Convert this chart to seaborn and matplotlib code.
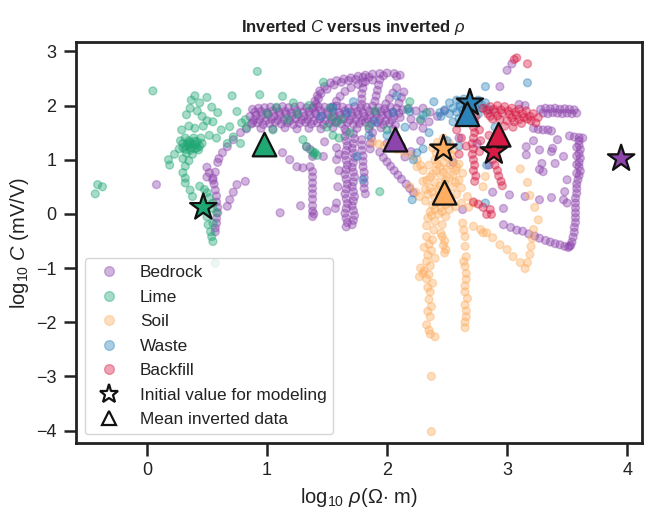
import pandas as pd
import seaborn as sns
import matplotlib.pyplot as plt
from matplotlib.lines import Line2D

# ---- inverted (log10 rho, log10 C) pairs per unit ----
bedrock = [
    (0.08, 0.54),
    (0.50, 0.86), (0.52, 0.76), (0.55, 0.66), (0.56, 0.55), (0.57, 0.44), (0.58, 0.33),
    (0.58, 0.22), (0.59, 0.12), (0.59, 0.02), (0.58, -0.08), (0.58, -0.17), (0.57, -0.26),
    (0.57, -0.33), (0.59, 0.95), (0.57, 0.77), (0.50, 0.68), (0.55, 0.62),
    (0.60, 1.02), (0.63, 1.13), (0.67, 1.24), (0.72, 1.37), (0.78, 1.50), (0.83, 1.57), (0.88, 1.68),
    (0.67, 0.14), (0.69, 0.26), (0.72, 0.40), (0.75, 0.54), (0.82, 0.60),
    (1.13, 1.13), (1.19, 1.00), (1.25, 0.87), (1.30, 0.85), (1.36, 0.87), (1.38, 1.06),
    (1.36, 1.19), (1.33, 1.24), (1.47, 1.06), (1.58, 1.00), (1.58, 1.22), (1.48, 1.33),
    (1.38, 0.78), (1.38, 0.68), (1.38, 0.57), (1.38, 0.47), (1.38, 0.37), (1.38, 0.27),
    (1.38, 0.15), (1.38, 0.05), (1.39, 0.00), (1.38, -0.05),
    (1.11, 0.02), (1.28, 0.15), (1.50, 0.05),
    # main band
    (0.88, 1.93), (0.93, 1.95), (0.98, 1.96), (1.03, 1.97), (1.08, 1.95), (1.13, 1.98),
    (1.18, 1.96), (1.23, 1.97), (1.28, 1.99), (1.33, 1.96), (1.38, 1.95), (1.43, 1.98),
    (1.48, 1.97), (1.53, 1.96), (1.58, 1.99), (1.63, 1.97), (1.68, 1.95), (1.73, 1.98),
    (1.78, 1.96), (1.83, 1.97), (1.88, 1.99), (1.93, 1.96), (1.98, 1.94), (2.03, 1.97),
    (2.08, 1.95), (2.13, 1.92),
    (0.90, 1.88), (0.95, 1.89), (1.00, 1.87), (1.05, 1.90), (1.10, 1.88), (1.15, 1.89),
    (1.20, 1.87), (1.25, 1.90), (1.30, 1.88), (1.35, 1.89), (1.40, 1.87), (1.45, 1.90),
    (1.50, 1.88), (1.55, 1.89), (1.60, 1.87), (1.65, 1.90), (1.70, 1.88), (1.75, 1.89),
    (1.80, 1.87), (1.85, 1.90), (1.90, 1.88), (1.95, 1.89), (2.00, 1.87), (2.05, 1.88),
    (2.10, 1.86),
    (0.86, 1.80), (0.91, 1.82), (0.96, 1.81), (1.01, 1.83), (1.06, 1.80), (1.11, 1.82),
    (1.16, 1.84), (1.21, 1.81), (1.26, 1.83), (1.31, 1.80), (1.36, 1.82), (1.41, 1.84),
    (1.46, 1.81), (1.51, 1.83), (1.56, 1.80), (1.61, 1.82), (1.66, 1.84), (1.71, 1.81),
    (1.76, 1.83), (1.81, 1.80), (1.86, 1.82), (1.91, 1.84), (1.96, 1.81), (2.01, 1.83),
    (2.06, 1.80), (2.11, 1.78),
    (0.89, 1.73), (0.94, 1.74), (0.99, 1.72), (1.04, 1.75), (1.09, 1.73), (1.14, 1.74),
    (1.19, 1.72), (1.24, 1.75), (1.29, 1.73), (1.34, 1.74), (1.39, 1.72), (1.44, 1.75),
    (1.49, 1.73), (1.54, 1.74), (1.59, 1.72), (1.64, 1.75), (1.69, 1.73), (1.74, 1.74),
    (1.79, 1.72), (1.84, 1.75), (1.89, 1.73), (1.94, 1.74), (1.99, 1.72), (2.04, 1.73),
    (0.87, 1.66), (0.92, 1.68), (0.97, 1.65), (1.02, 1.67), (1.07, 1.69), (1.12, 1.66),
    (1.17, 1.68), (1.22, 1.65), (1.27, 1.67), (1.32, 1.69), (1.37, 1.66), (1.42, 1.68),
    (1.47, 1.65), (1.52, 1.67), (1.57, 1.69), (1.62, 1.66), (1.67, 1.68), (1.72, 1.65),
    (1.77, 1.67), (1.82, 1.69), (1.87, 1.66), (1.92, 1.68), (1.97, 1.65), (2.02, 1.67),
    (2.07, 1.64),
    (0.95, 1.58), (1.05, 1.57), (1.15, 1.59), (1.25, 1.57), (1.35, 1.58), (1.45, 1.57),
    (1.55, 1.59), (1.65, 1.57), (1.75, 1.58), (1.85, 1.57), (1.95, 1.59), (2.05, 1.56),
    # upper strands
    (1.39, 1.98), (1.40, 2.08), (1.42, 2.18), (1.44, 2.27), (1.48, 2.35), (1.53, 2.42),
    (1.58, 2.46), (1.64, 2.49), (1.70, 2.51), (1.76, 2.54), (1.82, 2.56), (1.88, 2.58),
    (1.94, 2.59), (2.00, 2.60), (2.06, 2.59), (2.11, 2.56),
    (1.41, 2.03), (1.43, 2.13), (1.45, 2.22), (1.50, 2.30), (1.56, 2.38), (1.62, 2.43),
    (1.68, 2.46), (1.74, 2.48), (1.85, 2.52), (1.97, 2.55), (2.08, 2.54),
    (1.55, 1.98), (1.58, 2.08), (1.61, 2.17), (1.65, 2.26), (1.70, 2.33), (1.76, 2.39),
    (1.82, 2.44), (1.88, 2.47),
    (1.80, 2.52), (1.80, 2.42), (1.80, 2.32), (1.79, 2.22), (1.79, 2.12), (1.79, 2.02),
    (1.94, 2.48), (1.93, 2.38), (1.92, 2.28), (1.91, 2.18), (1.90, 2.08),
    (2.08, 2.33), (2.05, 2.23), (2.02, 2.13), (1.99, 2.03),
    (2.14, 2.25), (2.12, 2.15), (2.10, 2.05),
    # descending columns
    (1.66, 1.52), (1.65, 1.43), (1.66, 1.35), (1.67, 1.26), (1.66, 1.17), (1.65, 1.08),
    (1.66, 0.99), (1.67, 0.90), (1.66, 0.82), (1.65, 0.73), (1.66, 0.64), (1.67, 0.55),
    (1.66, 0.46), (1.65, 0.37), (1.66, 0.28), (1.67, 0.19), (1.66, 0.10), (1.65, 0.01),
    (1.66, -0.08), (1.67, -0.16), (1.66, -0.24),
    (1.72, 1.48), (1.73, 1.39), (1.72, 1.30), (1.71, 1.21), (1.72, 1.12), (1.73, 1.04),
    (1.72, 0.95), (1.71, 0.86), (1.72, 0.77), (1.73, 0.68), (1.72, 0.59), (1.71, 0.50),
    (1.72, 0.41), (1.73, 0.32), (1.72, 0.24), (1.71, 0.15), (1.72, 0.06), (1.73, -0.03),
    (1.72, -0.12), (1.71, -0.20),
    (1.60, 1.10), (1.60, 0.80), (1.59, 0.50), (1.58, 0.20), (1.57, 0.10),
    (1.79, 1.37), (1.79, 1.27), (1.79, 1.17), (1.80, 1.07), (1.80, 0.97), (1.80, 0.87),
    (1.81, 0.77), (1.81, 0.67), (1.81, 0.57), (1.81, 0.47), (1.82, 0.37),
    (1.88, 1.50), (1.87, 1.40), (1.86, 1.30), (1.86, 1.20),
    (1.94, 1.14), (1.97, 1.04), (2.00, 0.96), (2.03, 0.88), (2.06, 0.80), (2.09, 0.72),
    (2.12, 0.64), (2.16, 0.55), (2.19, 0.47), (2.22, 0.39),
    (2.00, 1.30), (2.12, 1.25), (2.20, 1.15), (2.28, 1.35), (2.15, 1.05),
    (2.18, 1.95), (2.24, 1.90), (2.30, 1.95), (2.36, 1.88), (2.20, 1.75), (2.28, 1.72),
    (2.35, 1.70), (2.42, 1.80), (2.48, 1.90), (2.22, 1.62), (2.30, 1.58),
    (2.55, 0.95), (2.60, 1.40), (2.75, 1.30), (2.85, 0.90), (2.63, 0.08), (2.88, 0.40),
    # right-hand group
    (2.94, 2.35), (3.00, 2.65), (3.04, 2.77),
    (3.10, 2.02), (3.15, 2.00),
    (3.28, 1.93), (3.32, 1.95), (3.36, 1.94), (3.40, 1.95), (3.44, 1.93), (3.48, 1.94),
    (3.52, 1.93), (3.56, 1.92), (3.30, 1.86), (3.34, 1.85), (3.38, 1.87), (3.42, 1.86),
    (3.46, 1.85), (3.50, 1.86), (3.54, 1.85), (3.58, 1.86),
    (3.22, 1.58), (3.26, 1.56), (3.30, 1.55), (3.34, 1.55), (3.37, 1.53),
    (3.52, 1.44), (3.56, 1.42), (3.60, 1.41), (3.63, 1.40),
    (3.60, 1.35), (3.60, 1.27), (3.61, 1.19), (3.60, 1.11), (3.61, 1.03), (3.60, 0.95),
    (3.60, 0.87), (3.61, 0.79), (3.60, 0.71), (3.59, 0.63), (3.58, 0.55), (3.58, 0.47),
    (3.58, 0.38), (3.57, 0.29), (3.57, 0.20), (3.57, 0.11), (3.57, 0.02), (3.57, -0.07),
    (3.57, -0.16), (3.56, -0.25), (3.56, -0.34), (3.55, -0.43), (3.54, -0.52), (3.53, -0.58),
    (3.58, 1.23), (3.58, 1.07), (3.58, 0.91), (3.58, 0.75),
    (2.97, -0.20), (3.03, -0.25), (3.08, -0.30), (3.13, -0.32), (3.18, -0.37), (3.23, -0.41),
    (3.27, -0.45), (3.32, -0.49), (3.36, -0.52), (3.40, -0.55), (3.44, -0.57), (3.48, -0.60),
    (3.51, -0.62), (3.52, -0.60),
    (3.16, 1.24), (3.16, 1.09), (3.27, 1.18), (3.37, 1.15), (3.29, 0.93), (3.40, 0.93),
    (3.50, 0.63), (3.47, 1.06), (3.42, 1.37), (3.22, 1.35), (3.30, 0.78), (3.48, 0.41),
    (3.27, 0.82), (3.38, 1.21),
    (3.02, 0.35), (3.15, 0.32), (3.27, 0.26), (3.37, 0.30), (3.47, 0.26), (3.50, 0.20),
    (2.97, 0.10),
]

lime = [
    (-0.41, 0.54), (-0.37, 0.50), (-0.43, 0.37), (0.05, 2.27), (0.92, 2.63),
    (0.37, 2.10), (0.40, 2.18), (0.44, 2.05), (0.50, 2.15), (0.54, 1.97), (0.59, 1.87),
    (0.71, 2.18), (0.75, 1.89), (0.82, 1.74), (0.33, 1.83), (0.36, 1.95), (0.42, 1.90),
    (0.46, 1.80), (0.50, 1.72), (0.29, 1.55), (0.35, 1.62), (0.40, 1.58), (0.47, 1.62),
    (0.55, 1.70), (0.62, 1.55), (0.69, 1.61), (0.79, 1.68), (0.83, 1.59), (0.72, 1.42),
    (0.67, 1.30), (0.78, 1.30), (0.58, 1.40), (0.52, 1.45), (0.45, 1.40),
    (0.18, 1.00), (0.19, 0.90), (0.27, 1.20), (0.23, 1.10),
    (0.30, 1.30), (0.33, 1.25), (0.35, 1.35), (0.38, 1.28), (0.40, 1.20), (0.42, 1.33),
    (0.36, 1.18), (0.32, 1.40), (0.39, 1.40), (0.44, 1.25), (0.34, 1.30), (0.37, 1.22),
    (0.41, 1.27), (0.36, 1.32), (0.30, 1.22), (0.43, 1.18), (0.46, 1.30), (0.33, 1.12),
    (0.38, 1.10), (0.28, 1.35), (0.35, 1.26), (0.40, 1.34), (0.32, 1.19), (0.42, 1.22),
    (0.30, 1.02), (0.35, 0.98), (0.32, 0.88), (0.30, 0.76), (0.32, 0.66), (0.32, 0.57),
    (0.36, 0.44), (0.38, 0.32), (0.44, 0.51), (0.50, 0.39), (0.55, 0.20), (0.58, 0.02),
    (0.55, -0.17), (0.54, -0.42), (0.51, -0.20), (0.53, -0.33), (0.55, -0.51), (0.57, -0.91),
    (0.48, 0.45), (0.52, 0.30), (0.55, 0.10), (0.50, -0.05),
    (0.94, 2.20), (1.08, 1.97), (1.13, 2.17), (1.22, 2.05), (1.17, 1.74), (1.30, 1.37),
    (1.33, 1.24), (1.38, 1.15), (1.40, 1.13), (1.42, 1.08), (1.39, 1.10), (1.50, 1.60),
    (1.58, 1.68), (1.69, 1.50), (1.55, 1.45), (1.60, 1.40), (1.62, 1.75), (1.54, 1.79),
    (1.53, 1.96), (1.47, 2.43), (1.85, 1.62), (1.90, 1.90), (2.00, 1.55), (2.17, 1.93),
    (2.19, 2.07), (2.33, 1.87), (2.28, 1.75), (1.94, 0.41), (1.05, 1.55), (1.00, 1.85),
    (1.25, 1.85), (1.35, 2.00),
]

soil = [
    (2.47, 1.40), (2.42, 1.32), (2.52, 1.30), (2.38, 1.22), (2.56, 1.18), (2.45, 1.10),
    (2.50, 1.05), (2.40, 1.00), (2.55, 0.98), (2.60, 0.92), (2.35, 0.90), (2.44, 0.86),
    (2.50, 0.82), (2.57, 0.80), (2.63, 0.75), (2.38, 0.74), (2.45, 0.70), (2.52, 0.66),
    (2.60, 0.62), (2.33, 0.62), (2.40, 0.58), (2.48, 0.55), (2.55, 0.50), (2.62, 0.48),
    (2.36, 0.48), (2.43, 0.44), (2.50, 0.40), (2.58, 0.36), (2.34, 0.36), (2.40, 0.30),
    (2.47, 0.27), (2.54, 0.22), (2.62, 0.20), (2.32, 0.24), (2.38, 0.16), (2.45, 0.12),
    (2.52, 0.08), (2.36, 0.04), (2.43, 0.00), (2.49, -0.05), (2.34, -0.08), (2.40, -0.14),
    (2.46, -0.20), (2.33, -0.22), (2.39, -0.30), (2.45, -0.36), (2.67, 0.32), (2.68, 0.12),
    (2.44, 1.25), (2.49, 1.18), (2.41, 1.12), (2.53, 1.10), (2.47, 0.95), (2.42, 0.92),
    (2.53, 0.90), (2.58, 0.86), (2.41, 0.80), (2.47, 0.77), (2.55, 0.72), (2.36, 0.68),
    (2.49, 0.62), (2.57, 0.58), (2.44, 0.52), (2.38, 0.40), (2.46, 0.35), (2.53, 0.30),
    (2.42, 0.21), (2.49, 0.17), (2.57, 0.13), (2.40, 0.08), (2.46, 0.04), (2.37, -0.03),
    (1.88, 1.32), (1.93, 1.29), (1.98, 1.26), (2.03, 1.22), (2.08, 1.19), (2.14, 1.14),
    (2.20, 1.08), (2.25, 1.00), (2.28, 0.90), (2.30, 0.80), (2.25, 0.87), (2.30, 0.60),
    (2.32, 0.45), (2.19, 0.50), (2.24, 0.40), (2.27, 0.32),
    (2.33, -0.42), (2.38, -0.48), (2.35, -0.56), (2.31, -0.62), (2.37, -0.68), (2.34, -0.76),
    (2.40, -0.82), (2.33, -0.88), (2.36, -0.96), (2.31, -1.05), (2.35, -1.12), (2.33, -1.20),
    (2.28, -1.00), (2.30, -1.10), (2.27, -1.16),
    (2.38, -1.28), (2.34, -1.36), (2.36, -1.44), (2.35, -1.58), (2.37, -1.71), (2.34, -1.80),
    (2.36, -1.90), (2.33, -2.05), (2.35, -2.15), (2.36, -2.22), (2.40, -2.27),
    (2.37, -3.00), (2.37, -4.02),
    (2.46, -0.42), (2.48, -0.50), (2.47, -0.58), (2.49, -0.66), (2.48, -0.72),
    (2.63, -0.17), (2.64, -0.30), (2.65, -0.42), (2.65, -0.60), (2.66, -0.79), (2.64, -0.88),
    (2.65, -0.97), (2.66, -1.10), (2.66, -1.21), (2.65, -1.33), (2.65, -1.44), (2.67, -1.56),
    (2.65, -1.68), (2.66, -1.79), (2.66, -1.90), (2.65, -2.00), (2.65, -2.10),
    (2.72, -0.23), (2.78, -0.29), (2.83, -0.35), (2.88, -0.44), (2.94, -0.57), (3.00, -0.66),
    (3.05, -0.79), (3.11, -0.90), (3.15, -1.01),
    (3.17, -0.90), (3.19, -0.75), (3.20, -0.60), (3.21, -0.45),
    (3.11, 0.83), (3.17, 0.58), (3.19, 0.34), (3.23, 0.12), (3.26, -0.11), (3.22, -0.29),
    (2.82, 0.69), (2.80, 0.50), (2.80, -0.35), (2.72, 0.20),
]

waste = [
    (2.52, 2.05), (2.58, 2.10), (2.64, 2.12), (2.70, 2.08), (2.76, 2.10), (2.82, 2.05),
    (2.55, 1.95), (2.61, 1.98), (2.67, 1.95), (2.73, 1.98), (2.79, 1.95), (2.85, 1.92),
    (2.52, 1.85), (2.58, 1.88), (2.64, 1.85), (2.70, 1.88), (2.76, 1.84), (2.60, 1.76),
    (2.66, 1.74), (2.72, 1.70), (2.55, 1.70), (2.48, 1.92), (2.45, 1.80),
    (2.61, 2.03), (2.67, 2.02), (2.73, 2.04), (2.79, 2.01), (2.63, 1.91), (2.70, 1.93),
    (1.72, 2.07), (2.08, 2.18), (2.05, 1.87), (2.19, 1.89), (2.30, 1.82), (2.39, 2.07),
    (2.44, 1.87), (2.25, 1.13), (1.80, 0.63), (1.75, 1.06), (2.82, 2.35), (3.17, 2.42),
    (2.21, 0.26), (1.67, 1.87), (2.83, 0.90), (2.82, 0.20), (1.55, 1.95), (1.45, 1.80),
    (1.90, 1.70), (2.00, 1.45), (2.15, 1.60), (2.35, 1.50), (2.50, 1.35), (2.60, 1.25),
    (2.30, 1.20), (2.90, 1.60), (1.85, 1.45), (2.22, 1.00),
]

backfill = [
    (2.80, 1.95), (2.86, 1.98), (2.92, 2.00), (2.98, 1.98), (3.04, 1.95), (3.10, 1.93),
    (3.16, 1.90), (3.22, 1.85), (3.26, 1.78), (2.84, 1.85), (2.90, 1.88), (2.96, 1.86),
    (3.02, 1.84), (3.08, 1.82), (3.14, 1.78), (3.20, 1.72), (3.24, 1.68), (2.88, 1.75),
    (2.94, 1.74), (3.00, 1.72), (3.06, 1.70), (3.12, 1.67), (2.98, 1.62), (3.05, 1.60),
    (2.83, 1.91), (2.89, 1.93), (2.95, 1.92), (3.01, 1.90), (3.07, 1.88), (3.13, 1.85),
    (3.19, 1.80), (2.86, 1.80), (2.92, 1.81), (3.04, 1.77), (3.10, 1.74), (3.17, 1.75),
    (2.74, 1.80), (2.73, 1.70), (2.72, 1.60), (2.73, 1.50), (2.72, 1.40), (2.71, 1.30),
    (2.72, 1.20), (2.71, 1.10), (2.72, 1.00), (2.73, 0.90), (2.72, 0.80), (2.74, 0.70),
    (2.73, 0.60), (2.77, 1.55), (2.78, 1.35), (2.77, 1.15),
    (2.88, 1.00), (2.90, 0.90), (2.92, 0.80), (2.93, 0.70), (2.95, 0.60), (2.96, 0.52),
    (3.08, 2.88), (3.17, 2.77), (3.06, 2.85),
    (2.80, 0.12), (2.83, -0.01), (2.87, -0.01), (2.86, 0.08), (2.76, 0.18), (2.72, 0.22),
    (2.58, 1.55), (2.62, 1.40), (2.66, 1.25), (2.85, 1.45), (2.95, 1.40), (2.60, 1.10),
    (2.70, 1.95),
]

units = ["Bedrock", "Lime", "Soil", "Waste", "Backfill"]
unit_colors = ["#8e44ad", "#1fa774", "#fdae61", "#2b83ba", "#d81b45"]

# starting model values and averages of the inverted cells
initial_rho = [3.95, 0.47, 2.47, 2.69, 2.89]
initial_c = [1.02, 0.12, 1.20, 2.05, 1.15]
mean_rho = [2.07, 0.98, 2.48, 2.67, 2.93]
mean_c = [1.37, 1.28, 0.39, 1.84, 1.46]

sns.set_theme(style="ticks")
plt.rcParams["font.family"] = ["Liberation Sans", "DejaVu Sans"]
plt.rcParams["mathtext.fontset"] = "custom"
plt.rcParams["mathtext.rm"] = "Liberation Sans"
plt.rcParams["mathtext.it"] = "Liberation Sans:italic"
plt.rcParams["mathtext.bf"] = "Liberation Sans:bold"

frames = []
for name, pts in zip(units, [bedrock, lime, soil, waste, backfill]):
    df = pd.DataFrame(pts, columns=["log_rho", "log_c"])
    df["unit"] = name
    frames.append(df)
cells = pd.concat(frames, ignore_index=True)

init_df = pd.DataFrame({"log_rho": initial_rho, "log_c": initial_c, "unit": units})
mean_df = pd.DataFrame({"log_rho": mean_rho, "log_c": mean_c, "unit": units})

fig = plt.figure(figsize=(6.47, 5.08), dpi=100)
ax = fig.add_axes([0.1175, 0.128, 0.875, 0.789])

sns.scatterplot(data=cells, x="log_rho", y="log_c", hue="unit", hue_order=units,
                palette=unit_colors, s=32, alpha=0.4, edgecolor="face", linewidth=1.0,
                legend=False, ax=ax, zorder=2)
sns.scatterplot(data=init_df, x="log_rho", y="log_c", hue="unit", hue_order=units,
                palette=unit_colors, marker="*", s=400, edgecolor="#111111", linewidth=1.6,
                legend=False, ax=ax, zorder=4)
sns.scatterplot(data=mean_df, x="log_rho", y="log_c", hue="unit", hue_order=units,
                palette=unit_colors, marker="^", s=290, edgecolor="#111111", linewidth=1.6,
                legend=False, ax=ax, zorder=4)

ax.set_xlim(-0.59, 4.125)
ax.set_ylim(-4.23, 3.17)
ax.set_xticks([0, 1, 2, 3, 4])
ax.set_yticks([-4, -3, -2, -1, 0, 1, 2, 3])

for side in ["left", "right", "top", "bottom"]:
    ax.spines[side].set_linewidth(2.0)
    ax.spines[side].set_color("#222222")
ax.tick_params(axis="both", length=9, width=1.8, color="#222222",
               labelsize=13, labelcolor="#222222", pad=5)

ax.set_xlabel(r"log$_{10}$ $\rho$(Ω$\cdot$ m)", fontsize=14.5, color="#222222", labelpad=5)
ax.set_ylabel(r"log$_{10}$ $C$ (mV/V)", fontsize=14.5, color="#222222", labelpad=4)
ax.set_title(r"Inverted $C$ versus inverted $\rho$", fontsize=12, fontweight="bold",
             color="#222222", x=0.49, pad=7)

handles = [Line2D([], [], linestyle="", marker="o", markersize=7, markerfacecolor=c,
                  markeredgecolor=c, alpha=0.4, markeredgewidth=1.0) for c in unit_colors]
handles.append(Line2D([], [], linestyle="", marker="*", markersize=14,
                      markerfacecolor="white", markeredgecolor="#111111", markeredgewidth=1.6))
handles.append(Line2D([], [], linestyle="", marker="^", markersize=10.5,
                      markerfacecolor="white", markeredgecolor="#111111", markeredgewidth=1.6))
labels = units + ["Initial value for modeling", "Mean inverted data"]
ax.legend(handles, labels, loc="lower left", fontsize=12.4, frameon=True,
          labelspacing=0.55, borderaxespad=0.5, edgecolor="#cccccc", fancybox=True,
          labelcolor="#222222")

fig.savefig("out.png", dpi=100)
